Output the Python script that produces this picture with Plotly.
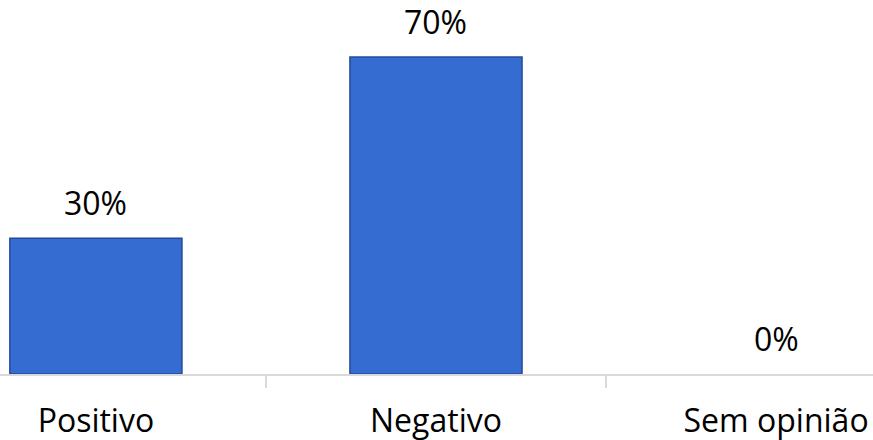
import plotly.graph_objects as go

categories = ["Positivo", "Negativo", "Sem opinião"]
values = [30, 70, 0]
labels = ["30%", "70%", "0%"]

FONT = "Open Sans"

fig = go.Figure(go.Bar(
    x=categories,
    y=values,
    width=0.506,
    marker=dict(color="#356CD2",
                line=dict(color="#24499A", width=[1.5 if v > 0 else 0 for v in values])),
    hoverinfo="skip",
))

for c, v, t in zip(categories, values, labels):
    fig.add_annotation(x=c, y=v, text=t, showarrow=False, yanchor="bottom",
                       yshift=12, font=dict(family=FONT, size=32, color="#000000"))

fig.update_layout(
    width=873, height=440,
    margin=dict(l=0, r=0, t=0, b=66),
    plot_bgcolor="white", paper_bgcolor="white",
    showlegend=False,
    bargap=0,
)
fig.update_xaxes(
    type="category",
    range=[-0.282, 2.285],
    automargin=False,
    showline=True, linecolor="#D9D9D9", linewidth=2,
    ticks="outside", tickson="boundaries", ticklen=12, tickcolor="#D9D9D9", tickwidth=2,
    tickfont=dict(family=FONT, size=32, color="#000000"),
    ticklabelstandoff=18,
    showgrid=False,
)
fig.update_yaxes(range=[0, 82.6], visible=False, showgrid=False, automargin=False)

fig.write_html("out.html",
               config={"displayModeBar": False, "staticPlot": True},
               post_script="document.body.style.margin='0px';document.body.style.overflow='hidden';")
